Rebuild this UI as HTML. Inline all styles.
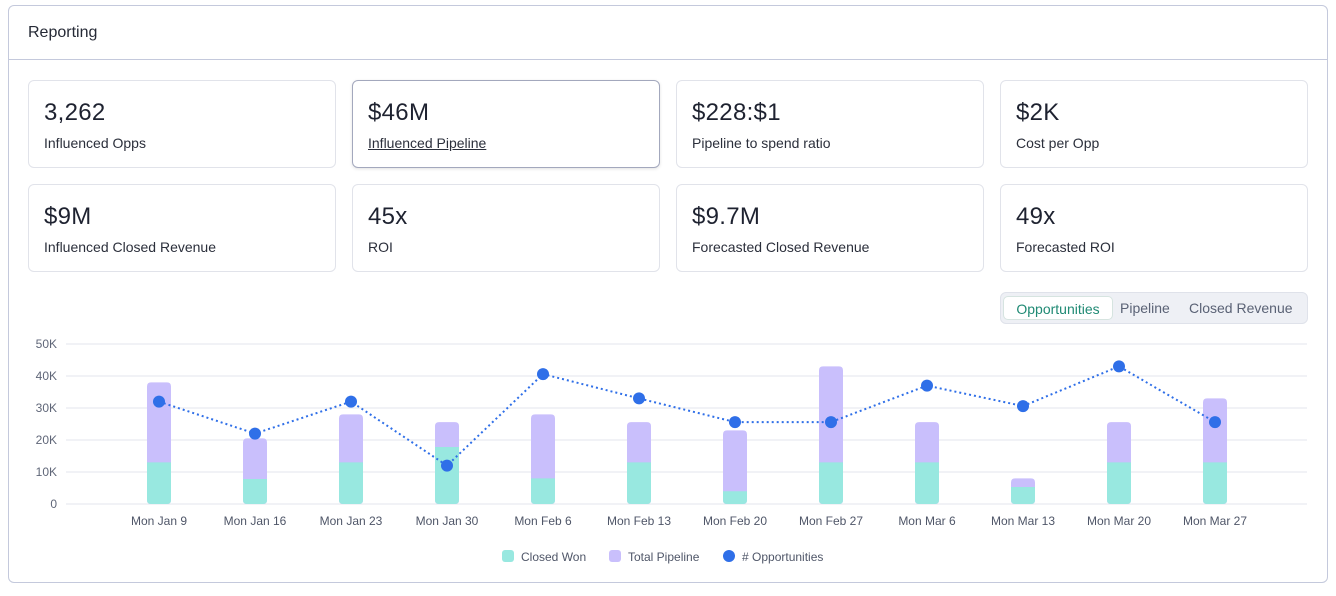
<!DOCTYPE html>
<html><head><meta charset="utf-8"><style>
*{box-sizing:border-box;margin:0;padding:0}
body{width:1336px;height:596px;background:#fff;font-family:"Liberation Sans",sans-serif;color:#1f2433;position:relative;overflow:hidden}
.panel{position:absolute;left:8px;top:5px;width:1320px;height:578px;border:1px solid #c4c9dc;border-radius:6px}
.hdr{height:54px;border-bottom:1px solid #c4c9dc;padding:18px 19px;font-size:16px;color:#262a36}
.card{position:absolute;width:308px;height:88px;border:1px solid #e1e3ea;border-radius:6px;padding:18px 15px}
.card.sel{border-color:#a3a8bd;box-shadow:0 1px 3px rgba(0,0,0,.12)}
.card .v{font-size:24px;color:#1e2230;letter-spacing:.3px}
.card .l{font-size:14px;color:#2b2f3b;margin-top:8px}
.card.sel .l{text-decoration:underline}
.tabs{position:absolute;left:1000px;top:292px;width:308px;height:32px;background:#eef0f5;border:1px solid #dfe2ea;border-radius:6px;font-size:14px}
.tab{position:absolute;top:3px;height:24px;line-height:24px;color:#5a6275}
.tab.on{left:2px;width:110px;background:#fff;border:1px solid #d6e4e0;border-radius:5px;color:#1f8a74;text-align:center}
</style></head><body>
<div class="panel">
<div class="hdr">Reporting</div>
</div>
<div class="card" style="left:28px;top:80px"><div class="v">3,262</div><div class="l">Influenced Opps</div></div>
<div class="card sel" style="left:352px;top:80px"><div class="v">$46M</div><div class="l">Influenced Pipeline</div></div>
<div class="card" style="left:676px;top:80px"><div class="v">$228:$1</div><div class="l">Pipeline to spend ratio</div></div>
<div class="card" style="left:1000px;top:80px"><div class="v">$2K</div><div class="l">Cost per Opp</div></div>
<div class="card" style="left:28px;top:184px"><div class="v">$9M</div><div class="l">Influenced Closed Revenue</div></div>
<div class="card" style="left:352px;top:184px"><div class="v">45x</div><div class="l">ROI</div></div>
<div class="card" style="left:676px;top:184px"><div class="v">$9.7M</div><div class="l">Forecasted Closed Revenue</div></div>
<div class="card" style="left:1000px;top:184px"><div class="v">49x</div><div class="l">Forecasted ROI</div></div>
<div class="tabs">
<div class="tab on">Opportunities</div>
<div class="tab" style="left:119px">Pipeline</div>
<div class="tab" style="left:188px">Closed Revenue</div>
</div>
<svg id="chart" width="1336" height="596" style="position:absolute;left:0;top:0"></svg>
<script>
const categories=["Mon Jan 9","Mon Jan 16","Mon Jan 23","Mon Jan 30","Mon Feb 6","Mon Feb 13","Mon Feb 20","Mon Feb 27","Mon Mar 6","Mon Mar 13","Mon Mar 20","Mon Mar 27"];
const totalPipeline=[38,20.5,28,25.6,28,25.6,23,43,25.6,8,25.6,33];
const closedWon=[13,7.8,13,17.8,8,13,4,13,13,5.3,13,13];
const opportunities=[32,22,32,12,40.6,33,25.6,25.6,37,30.6,43,25.6];
const yTicks=[0,10,20,30,40,50];
const yTickLabels=["0","10K","20K","30K","40K","50K"];
const NS="http://www.w3.org/2000/svg",svg=document.getElementById('chart');
const y=v=>504-v*3.2, x=i=>159+i*96;
function mk(t,a){const e=document.createElementNS(NS,t);for(const k in a)e.setAttribute(k,a[k]);svg.appendChild(e);return e;}
yTicks.forEach((t,i)=>{
 const g=mk('line',{x1:66,x2:1307,y1:y(t),y2:y(t),stroke:'#e3e6ee','stroke-width':1});
 
 
 const l=mk('text',{x:57,y:y(t)+4,'text-anchor':'end','font-size':12,fill:'#5f6678','font-family':'Liberation Sans'});
 l.textContent=yTickLabels[i];
 
 
});
function rr(x0,top,bot,w,fill){const r=4,h=bot-top;return `M${x0},${bot-r}V${top+r}Q${x0},${top} ${x0+r},${top}H${x0+w-r}Q${x0+w},${top} ${x0+w},${top+r}V${bot-r}Q${x0+w},${bot} ${x0+w-r},${bot}H${x0+r}Q${x0},${bot} ${x0},${bot-r}Z`;}
categories.forEach((c,i)=>{
 const b=mk('path',{d:rr(x(i)-12,y(totalPipeline[i]),y(0),24),fill:'#c9bffc'});
 
 
 const top=y(closedWon[i]);
 const w=mk('path',{d:`M${x(i)-12},${top}H${x(i)+12}V${y(0)-4}Q${x(i)+12},${y(0)} ${x(i)+8},${y(0)}H${x(i)-8}Q${x(i)-12},${y(0)} ${x(i)-12},${y(0)-4}Z`,fill:'#98e8e0'});
 
 
 const t=mk('text',{x:x(i),y:525,'text-anchor':'middle','font-size':12,fill:'#4f5668','font-family':'Liberation Sans'});
 t.textContent=c;
 
 
});
const ln=mk('polyline',{points:opportunities.map((v,i)=>x(i)+','+y(v)).join(' '),fill:'none',stroke:'#2f6fe8','stroke-width':2,'stroke-dasharray':'2 3'});


opportunities.forEach((v,i)=>{
 const p=mk('circle',{cx:x(i),cy:y(v),r:6,fill:'#2f6fe8'});
 
 
});
const leg=[["Closed Won","#98e8e0",502,'rect'],["Total Pipeline","#c9bffc",609,'rect'],["# Opportunities","#2f6fe8",723,'circle']];
leg.forEach(([n,col,lx,s])=>{
 const m=s==='rect'?mk('rect',{x:lx,y:550,width:12,height:12,rx:3,fill:col}):mk('circle',{cx:lx+6,cy:556,r:6,fill:col});
 
 
 const t=mk('text',{x:lx+19,y:561,'font-size':12,fill:'#4f5668','font-family':'Liberation Sans'});
 t.textContent=n;
 
 
});
</script>
</body></html>
